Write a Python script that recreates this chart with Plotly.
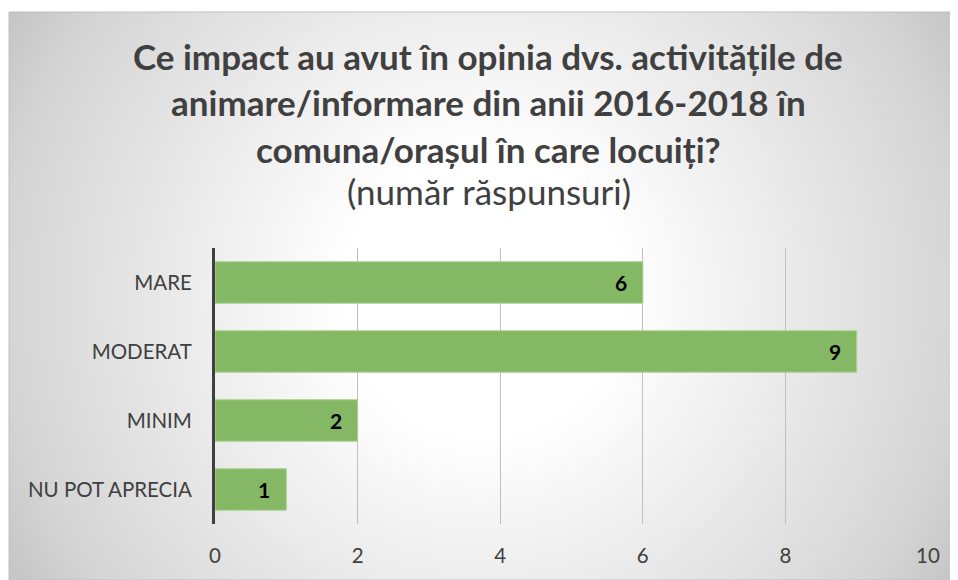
import base64
import plotly.graph_objects as go

# ---- data ----
categories = ["MARE", "MODERAT", "MINIM", "NU POT APRECIA"]
values = [6, 9, 2, 1]
x_ticks = [0, 2, 4, 6, 8, 10]
title_lines = [
    "Ce impact au avut în opinia dvs. activitățile de",
    "animare/informare din anii 2016-2018 în",
    "comuna/orașul în care locuiți?",
]
subtitle = "(număr răspunsuri)"

# ---- layout geometry (figure sits 8px into the page because of body margin) ----
OFF = 8
W, H = 958 - OFF, 580 - OFF
ML, MR, MT, MB = 215 - OFF, 30, 248 - OFF, 56
PW, PH = W - ML - MR, H - MT - MB


def px2x(px):
    return (px - OFF - ML) / PW


def px2y(py):
    return (H - MB - (py - OFF)) / PH


FONT = "Lato"
TXT = "#404040"

fig = go.Figure()
fig.add_trace(go.Bar(
    y=categories, x=values, orientation="h",
    marker=dict(color="#84b864", line=dict(color="#a9d18e", width=1)),
    hoverinfo="x+y", showlegend=False,
))

annotations = []
for c, v in zip(categories, values):
    annotations.append(dict(
        x=v, y=c, xref="x", yref="y", text=f"<b>{v}</b>", showarrow=False,
        xanchor="right", xshift=-14, font=dict(family=FONT, size=21, color="#000000"),
    ))

title_y = [56, 102, 149]
for t, py in zip(title_lines, title_y):
    annotations.append(dict(
        x=px2x(488), y=px2y(py), xref="paper", yref="paper", text=f"<b>{t}</b>",
        showarrow=False, xanchor="center", yanchor="middle",
        font=dict(family=FONT, size=35, color=TXT),
    ))
annotations.append(dict(
    x=px2x(489), y=px2y(191), xref="paper", yref="paper", text=subtitle,
    showarrow=False, xanchor="center", yanchor="middle",
    font=dict(family=FONT, size=35, color=TXT),
))

# radial gradient background as SVG (circular, centred on the chart area)
BW, BH = 949, 568
svg = (
    f"<svg xmlns='http://www.w3.org/2000/svg' width='{BW}' height='{BH}' "
    f"viewBox='0 0 {BW} {BH}' preserveAspectRatio='none'>"
    f"<defs><radialGradient id='g' gradientUnits='userSpaceOnUse' cx='{BW/2}' cy='{BH/2}' r='560'>"
    "<stop offset='0' stop-color='#ffffff'/>"
    "<stop offset='0.25' stop-color='#ffffff'/>"
    "<stop offset='0.51' stop-color='#ededed'/>"
    "<stop offset='0.85' stop-color='#d5d5d5'/>"
    "<stop offset='1' stop-color='#c3c3c3'/>"
    "</radialGradient></defs>"
    "<rect width='100%' height='100%' fill='url(#g)'/></svg>"
)
src = "data:image/svg+xml;base64," + base64.b64encode(svg.encode()).decode()

x0, y0 = px2x(9), px2y(12)
x1, y1 = px2x(958), px2y(580)

fig.update_layout(
    width=W, height=H,
    margin=dict(l=ML, r=MR, t=MT, b=MB, autoexpand=False),
    paper_bgcolor="#ffffff", plot_bgcolor="rgba(0,0,0,0)",
    bargap=0.4,
    annotations=annotations,
    images=[dict(source=src, xref="paper", yref="paper", x=x0, y=y0,
                 sizex=x1 - x0, sizey=y0 - y1, xanchor="left", yanchor="top",
                 sizing="stretch", layer="below")],
    shapes=[dict(type="rect", xref="paper", yref="paper", x0=x0, y0=y1, x1=x1, y1=y0,
                 line=dict(color="#c0c0c0", width=1), fillcolor="rgba(0,0,0,0)", layer="below")],
    xaxis=dict(range=[0, 10], tickvals=x_ticks, showgrid=True, gridcolor="#bfbfbf",
               gridwidth=1, zeroline=False, showline=False, ticks="",
               ticklabelstandoff=17,
               tickfont=dict(family=FONT, size=20.5, color=TXT), fixedrange=True),
    yaxis=dict(categoryorder="array", categoryarray=categories, autorange="reversed",
               showline=True, linecolor="#404040", linewidth=3, showgrid=False,
               ticks="", ticklabelstandoff=16,
               tickfont=dict(family=FONT, size=20.5, color=TXT), fixedrange=True),
)

fig.write_html("out.html")
